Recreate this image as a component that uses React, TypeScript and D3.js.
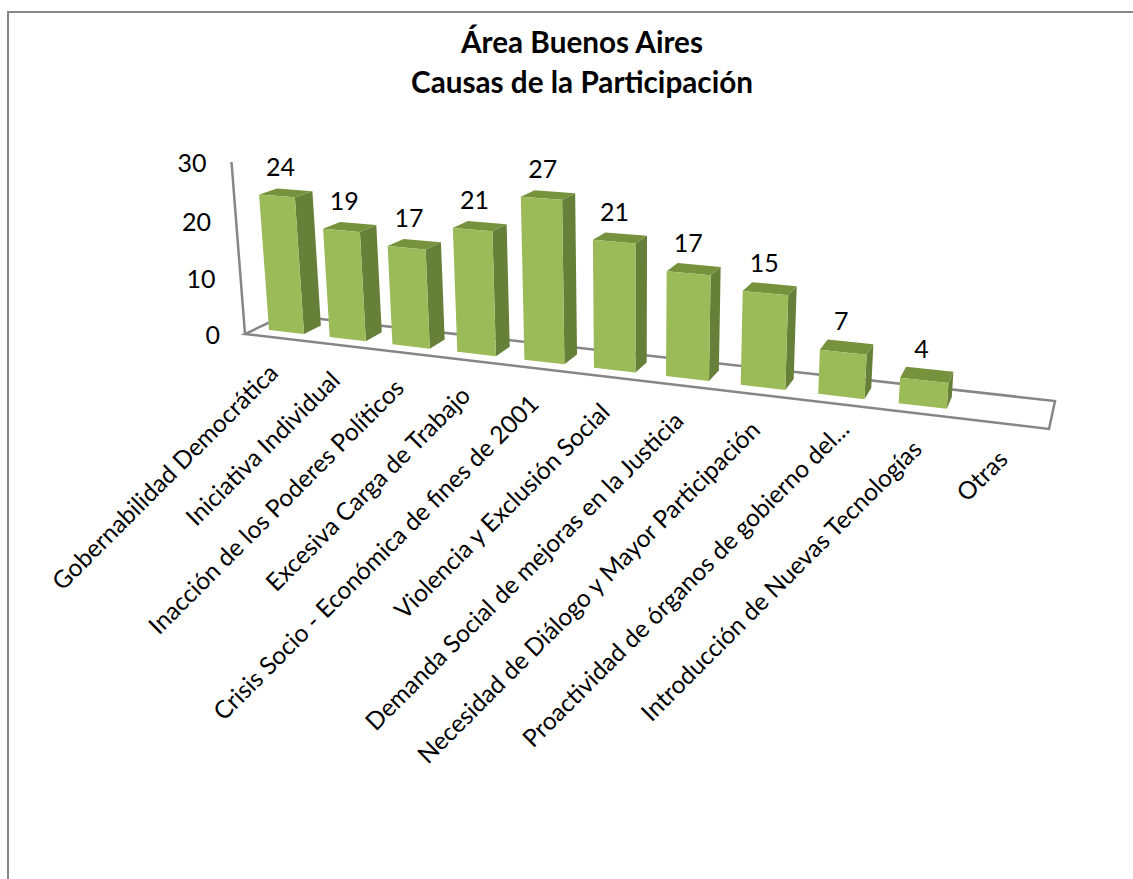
import React from 'react';
import * as d3 from 'd3';

const categories = [
  'Gobernabilidad Democrática',
  'Iniciativa Individual',
  'Inacción de los Poderes Políticos',
  'Excesiva Carga de Trabajo',
  'Crisis Socio - Económica de fines de 2001',
  'Violencia y Exclusión Social',
  'Demanda Social de mejoras en la Justicia',
  'Necesidad de Diálogo y Mayor Participación',
  'Proactividad de órganos de gobierno del...',
  'Introducción de Nuevas Tecnologías',
  'Otras',
];
const values: (number | null)[] = [24, 19, 17, 21, 27, 21, 17, 15, 7, 4, null];
const yTicks = [0, 10, 20, 30];
const titleLines = ['Área Buenos Aires', 'Causas de la Participación'];

const FONT = 'Lato, "Open Sans", sans-serif';
const WIDTH = 1133;
const HEIGHT = 879;

// Corners of the 3D plot box as they land on the page
const floor = {
  frontLeft: [245, 334],
  frontRight: [1049, 429],
  backRight: [1055, 401],
  backLeft: [285, 315],
};
const axisTop = [231, 162];
const verticalVanish = [634, 5290];

// unit square -> floor quad, third column comes from the vertical vanishing point
function makeProjection() {
  const [x0, y0] = floor.frontLeft;
  const [x1, y1] = floor.frontRight;
  const [x2, y2] = floor.backRight;
  const [x3, y3] = floor.backLeft;
  const dx1 = x1 - x2, dx2 = x3 - x2, sx = x0 - x1 + x2 - x3;
  const dy1 = y1 - y2, dy2 = y3 - y2, sy = y0 - y1 + y2 - y3;
  const den = dx1 * dy2 - dx2 * dy1;
  const g = (sx * dy2 - dx2 * sy) / den;
  const h = (dx1 * sy - sx * dy1) / den;
  const a = x1 - x0 + g * x1, b = x3 - x0 + h * x3;
  const d = y1 - y0 + g * y1, e = y3 - y0 + h * y3;
  const k = (axisTop[1] - y0) / (verticalVanish[1] - axisTop[1]);
  return (u: number, v: number, w: number): [number, number] => {
    const q = g * u + h * v + 1 + k * w;
    return [
      (a * u + b * v + x0 + k * verticalVanish[0] * w) / q,
      (d * u + e * v + y0 + k * verticalVanish[1] * w) / q,
    ];
  };
}

export default function App() {
  const project = makeProjection();

  const u = d3.scaleBand<string>().domain(categories).range([0, 1]).paddingInner(0.42).paddingOuter(0.21);
  const w = d3.scaleLinear().domain([0, 30]).range([0, 1]);
  const depth = d3.scaleBand<string>().domain(['serie']).range([0, 1]).paddingInner(0).paddingOuter(0.636);

  const poly = (pts: [number, number][]) => d3.line()(pts) + 'Z';
  const vFront = depth('serie') as number;
  const vBack = vFront + depth.bandwidth();

  const floorPath = poly([
    project(0, 0, 0), project(1, 0, 0), project(1, 1, 0), project(0, 1, 0),
  ]);

  return (
    <svg width={WIDTH} height={HEIGHT} style={{ position: 'absolute', left: 0, top: 0 }} fontFamily={FONT}>
      <rect width={WIDTH} height={HEIGHT} fill="#fff" />
      <path d={`M8,${HEIGHT}V12H${WIDTH}`} fill="none" stroke="#868686" strokeWidth={2} />

      {titleLines.map((line, i) => (
        <text key={line} x={582} y={53 + i * 40} textAnchor="middle" fontSize={29.7} fontWeight={700} fill="#000">
          {line}
        </text>
      ))}

      <path d={floorPath} fill="none" stroke="#868686" strokeWidth={2.5} />
      <line
        x1={project(0, 0, 0)[0]} y1={project(0, 0, 0)[1]}
        x2={project(0, 0, 1)[0]} y2={project(0, 0, 1)[1]}
        stroke="#868686" strokeWidth={2.5}
      />

      {yTicks.map(t => {
        const [x, y] = project(0, 0, w(t));
        return (
          <text key={t} x={x - 25} y={y + 10} textAnchor="end" fontSize={25} fill="#000">{t}</text>
        );
      })}

      {categories.map((c, i) => {
        const v = values[i];
        if (v === null) return null;
        const u0 = u(c) as number;
        const u1 = u0 + u.bandwidth();
        const h = w(v);
        return (
          <g key={c}>
            <path d={poly([project(u1, vFront, 0), project(u1, vBack, 0), project(u1, vBack, h), project(u1, vFront, h)])} fill="#66803a" />
            <path d={poly([project(u0, vFront, h), project(u1, vFront, h), project(u1, vBack, h), project(u0, vBack, h)])} fill="#76923c" />
            <path d={poly([project(u0, vFront, 0), project(u1, vFront, 0), project(u1, vFront, h), project(u0, vFront, h)])} fill="#9bbb59" />
          </g>
        );
      })}

      {categories.map((c, i) => {
        const v = values[i];
        if (v === null) return null;
        const [x, y] = project((u(c) as number) + u.bandwidth() / 2, 0.5, w(v));
        return (
          <text key={c} x={x - 5.5} y={y - 17} textAnchor="middle" fontSize={25} fill="#000">{v}</text>
        );
      })}

      {categories.map(c => {
        const [x, y] = project((u(c) as number) + u.bandwidth() / 2, 0, 0);
        // the cut-off label sits further up its own line
        const dx = c.endsWith('...') ? 14 : 0;
        return (
          <text
            key={c}
            transform={`translate(${x + 4.5},${y + 37}) rotate(-45)`}
            dx={dx}
            textAnchor="end"
            fontSize={24.5}
            fill="#000"
          >
            {c}
          </text>
        );
      })}
    </svg>
  );
}
